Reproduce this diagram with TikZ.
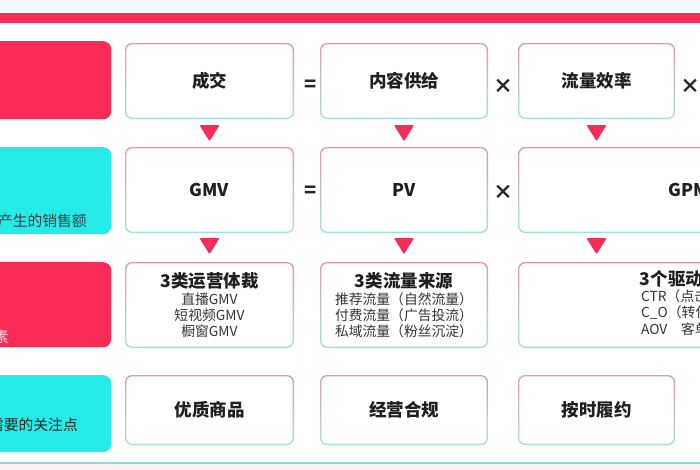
\documentclass[tikz,border=0pt]{standalone}
\usepackage{fontspec}
\setmainfont{Noto Sans CJK SC}
\usepackage{xcolor}
\definecolor{dyred}{RGB}{248,44,86}
\definecolor{dycyan}{RGB}{38,234,232}
\definecolor{edgetop}{RGB}{232,152,172}
\definecolor{edgebot}{RGB}{162,226,226}
\definecolor{toppale}{RGB}{241,249,250}
\definecolor{botpale}{RGB}{252,239,244}
\definecolor{tealline}{RGB}{150,214,212}
\definecolor{subgray}{RGB}{52,52,52}

\begin{document}
\begin{tikzpicture}[x=1pt,y=-1pt,
    box/.style={rounded corners=7pt, inner sep=0pt, top color=edgetop, bottom color=edgebot,
        path picture={\fill[white,rounded corners=6pt]
            ([shift={(1.4pt,-1.4pt)}]path picture bounding box.north west) rectangle
            ([shift={(-1.4pt,1.4pt)}]path picture bounding box.south east);}},
    mainfont/.style={font=\fontsize{17.5}{20}\selectfont\bfseries, text=black!88},
    subfont/.style={font=\fontsize{13.8}{16}\selectfont, text=subgray},
    sidefont/.style={font=\fontsize{14.8}{17}\selectfont, inner sep=0pt, anchor=east},
    opsign/.style={font=\fontsize{20}{22}\selectfont\bfseries, text=black!85},
    tag/.style={rounded corners=8pt, inner sep=0pt, minimum width=140pt, anchor=north west},
    tri/.style={fill=dyred, rounded corners=1pt}]
    \useasboundingbox (0,0) rectangle (700,470);
    \clip (0,0) rectangle (700,470);

    % background
    \fill[white] (0,0) rectangle (700,470);
    \fill[toppale] (0,0) rectangle (700,13);
    \fill[dyred] (0,13) rectangle (700,23);
    \fill[botpale] (0,463) rectangle (700,470);
    \draw[tealline, line width=2pt] (0,463) -- (700,463);

    % left tags
    \node[tag, fill=dyred, minimum height=78pt] (side1) at (-29,41) {};
    \node[tag, fill=dycyan, minimum height=87pt] (side2) at (-29,147) {};
    \node[tag, fill=dyred, minimum height=85pt] (side3) at (-29,262) {};
    \node[tag, fill=dycyan, minimum height=77pt] (side4) at (-29,375) {};
    \node[sidefont, text=black!75] (lab2) at (87,221) {产生的销售额};
    \node[sidefont, text=white!88!dyred] (lab3) at (9,337) {要素};
    \node[sidefont, text=black!85] (lab4) at (78,425) {需要的关注点};

    % row 1
    \node[box, mainfont, minimum width=169pt, minimum height=76pt] (c1r1) at (209.5,81) {成交};
    \node[box, mainfont, minimum width=168pt, minimum height=76pt] (c2r1) at (404,81) {内容供给};
    \node[box, mainfont, minimum width=157pt, minimum height=76pt] (c3r1) at (596.5,81) {流量效率};
    \node[opsign] (eq1) at (311,86) {=};
    \node[opsign] (mul1) at (503,86) {×};
    \node[opsign] (mul2) at (690,86) {×};

    % row 2
    \node[box, mainfont, minimum width=169pt, minimum height=86pt] (c1r2) at (209.5,190) {GMV};
    \node[box, mainfont, minimum width=168pt, minimum height=86pt] (c2r2) at (404,190) {PV};
    \node[box, mainfont, minimum width=342pt, minimum height=86pt] (c3r2) at (689,190) {GPM};
    \node[opsign] (eq2) at (311,192) {=};
    \node[opsign] (mul3) at (503,192) {×};

    % row 3
    \node[box, subfont, align=center, minimum width=169pt, minimum height=86pt] (c1r3) at (209.5,305)
        {{\fontsize{17.5}{19}\selectfont\bfseries\color{black!88}3类运营体裁}\\[1pt]直播GMV\\短视频GMV\\橱窗GMV};
    \node[box, subfont, align=center, minimum width=168pt, minimum height=86pt] (c2r3) at (404,305)
        {{\fontsize{17.5}{19}\selectfont\bfseries\color{black!88}3类流量来源}\\[1pt]推荐流量（自然流量）\\付费流量（广告投流）\\私域流量（粉丝沉淀）};
    \node[box, subfont, align=center, minimum width=342pt, minimum height=86pt] (c3r3) at (689,305)
        {{\fontsize{17.5}{19}\selectfont\bfseries\color{black!88}3个驱动因素}\\[1pt]\begin{tabular}{@{}l@{}}CTR（点击率）\\C\_O（转化率）\\AOV\quad 客单价\end{tabular}};

    % row 4
    \node[box, mainfont, minimum width=169pt, minimum height=70pt] (c1r4) at (209.5,410) {优质商品};
    \node[box, mainfont, minimum width=168pt, minimum height=70pt] (c2r4) at (404,410) {经营合规};
    \node[box, mainfont, minimum width=157pt, minimum height=70pt] (c3r4) at (596.5,410) {按时履约};

    % arrows
    \foreach \n in {c1r1,c2r1,c3r1}
        \fill[tri] ([yshift=-6pt]\n.south) ++(-10,0) -- ++(20,0) -- ++(-10,16) -- cycle;
    \foreach \n in {c1r2,c2r2}
        \fill[tri] ([yshift=-5pt]\n.south) ++(-10,0) -- ++(20,0) -- ++(-10,16) -- cycle;
    \fill[tri] ([yshift=-5pt]c3r1.south |- c3r2.south) ++(-10,0) -- ++(20,0) -- ++(-10,16) -- cycle;
\end{tikzpicture}
\end{document}
